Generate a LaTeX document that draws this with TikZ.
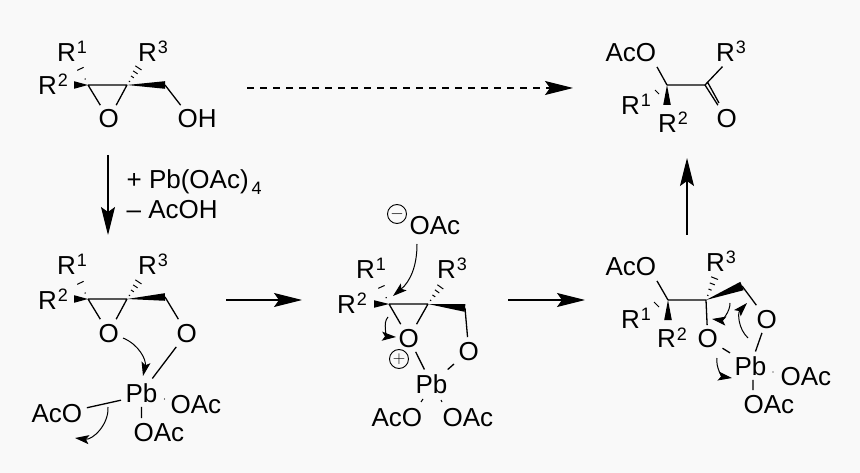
\documentclass[tikz,border=0pt]{standalone}
\usepackage{fontspec}
\setmainfont{Liberation Sans}
\usetikzlibrary{arrows.meta,calc}
\definecolor{paper}{HTML}{F9F9F9}
\newcommand{\Rsup}[1]{\kern-1.5pt R\raisebox{8pt}{\fontsize{18}{18}\selectfont\kern1pt #1}}
\newcommand{\wedgebond}[3][3.8pt]{\fill ($(#3)!#1!90:(#2)$) -- ($(#3)!#1!-90:(#2)$) -- (#2) -- cycle;}
\newcommand{\hashbond}[3]{\foreach \t/\w in {#3}{
		\coordinate (m) at ($(#1)!\t!(#2)$);
		\draw[hash line] ($(m)!\w pt!90:(#2)$) -- ($(m)!\w pt!-90:(#2)$);}}
\begin{document}
\begin{tikzpicture}[x=1pt,y=-1pt,line width=1.3pt,
				atom/.style = {anchor=base west,inner sep=4pt,xshift=-4pt,font=\fontsize{26}{26}\selectfont},
				hash line/.style = {line width=1pt},
				step arrow/.style = {-{Stealth[length=28pt,width=14pt,inset=5pt]},line width=1.1pt},
				push arrow/.style = {-{Stealth[length=14pt,width=9pt,inset=3pt]},line width=1pt},
				charge/.style = {circle,draw,line width=.9pt,inner sep=0pt,minimum size=19pt,font=\fontsize{17}{17}\selectfont}]
				\fill[paper] (0,0) rectangle (860,473);
				\useasboundingbox (0,0) rectangle (860,473);

				\coordinate (a1) at (88,85);
				\coordinate (a2) at (127,85);
				\coordinate (a3) at (165,85);
				\coordinate (aw) at (74,85);
				\coordinate (ah1) at (80,68);
				\coordinate (ah3) at (139,67);
				\node[atom] (aR1) at (58,62) {\Rsup{1}};
				\node[atom] (aR2) at (39,95) {\Rsup{2}};
				\node[atom] (aR3) at (139,62) {\Rsup{3}};
				\node[atom] (aO) at (98,128) {O};
				\node[atom] (aOH) at (177,128) {OH};
				\draw (a1) -- (a2) (a1) -- (aO) (a2) -- (aO) (a3) -- (aOH.140);
				\wedgebond{a1}{aw}
				\wedgebond{a2}{a3}
				\hashbond{a1}{ah1}{.35/.6,.95/3.5}
				\hashbond{a2}{ah3}{.2/.7,.45/1.7,.7/2.7,.95/3.7}

				\coordinate (b1) at (88,299);
				\coordinate (b2) at (127,299);
				\coordinate (b3) at (165,297);
				\coordinate (bw) at (74,299);
				\coordinate (bh1) at (80,282);
				\coordinate (bh3) at (139,281);
				\node[atom] (bR1) at (58,275) {\Rsup{1}};
				\node[atom] (bR2) at (39,309) {\Rsup{2}};
				\node[atom] (bR3) at (139,275) {\Rsup{3}};
				\node[atom] (bO1) at (98,342) {O};
				\node[atom] (bO2) at (176,342) {O};
				\node[atom] (bPb) at (125,402) {Pb};
				\node[atom] (bAcO) at (31,422) {AcO};
				\node[atom] (bOAc1) at (170,413) {OAc};
				\node[atom] (bOAc2) at (133,441) {OAc};
				\draw (b1) -- (b2) (b1) -- (bO1) (b2) -- (bO1) (b3) -- (bO2) (bO2) -- (bPb)
				(bAcO.10) -- (bPb.200) (bPb.south) -- (bPb.south |- bOAc2.north);
				\wedgebond{b1}{bw}
				\wedgebond{b2}{b3}
				\hashbond{b1}{bh1}{.35/.6,.95/3.5}
				\hashbond{b2}{bh3}{.2/.7,.45/1.7,.7/2.7,.95/3.7}
				\coordinate (bd) at (164.5,399);
				\fill (bd) circle (.7pt);
				\coordinate (bp1) at (123,338);
				\coordinate (bp2) at (143,376);
				\coordinate (bp3) at (108,407);
				\coordinate (bp4) at (75,438);
				\draw[push arrow] (bp1) to[bend left=40] (bp2);
				\draw[push arrow] (bp3) to[bend left=50] (bp4);

				\coordinate (c1) at (389,304);
				\coordinate (c2) at (428,304);
				\coordinate (c3) at (465,308);
				\coordinate (cw) at (374,304);
				\coordinate (ch1) at (381,286);
				\coordinate (ch3) at (441,286);
				\node[atom] (cR1) at (357,279) {\Rsup{1}};
				\node[atom] (cR2) at (338,313) {\Rsup{2}};
				\node[atom] (cR3) at (438,279) {\Rsup{3}};
				\node[atom] (cO1) at (398,347) {O};
				\node[atom] (cO2) at (458,360) {O};
				\node[atom] (cPb) at (415,393) {Pb};
				\node[atom] (cAcO) at (371,426) {AcO};
				\node[atom] (cOAc1) at (442,426) {OAc};
				\node[atom] (cOAc2) at (409,235) {OAc};
				\node[charge] (cminus) at (397,214) {$-$};
				\node[charge] (cplus) at (399,359) {$+$};
				\draw (c1) -- (c2) (c1) -- (cO1) (c2) -- (cO1) (c3) -- (cO2) (cO1) -- (cPb) (cO2) -- (cPb);
				\wedgebond{c1}{cw}
				\wedgebond{c2}{c3}
				\hashbond{c1}{ch1}{.35/.6,.95/3.5}
				\hashbond{c2}{ch3}{.2/.7,.45/1.7,.7/2.7,.95/3.7}
				\coordinate (cb1) at (423,399);
				\coordinate (cb2) at (421,402);
				\coordinate (cb3) at (441,400);
				\coordinate (cb4) at (442,402);
				\draw[hash line] (cb1) -- (cb2) (cb3) -- (cb4);
				\coordinate (cp1) at (417,244);
				\coordinate (cp2) at (393,296);
				\coordinate (cp3) at (388,317);
				\coordinate (cp4) at (396,337);
				\draw[push arrow] (cp1) to[bend left=25] (cp2);
				\draw[push arrow] (cp3) to[bend right=65] (cp4);

				\coordinate (d1) at (668,300);
				\coordinate (d2) at (706,300);
				\coordinate (d3) at (742,286);
				\coordinate (dw) at (668,320);
				\coordinate (dh1) at (654,302);
				\coordinate (dh2) at (659,307);
				\coordinate (dh3) at (715,277);
				\node[atom] (dAcO) at (605,276) {AcO};
				\node[atom] (dR1) at (622,328) {\Rsup{1}};
				\node[atom] (dR2) at (658,348) {\Rsup{2}};
				\node[atom] (dR3) at (707,272) {\Rsup{3}};
				\node[atom] (dO1) at (697,348) {O};
				\node[atom] (dO2) at (756,328) {O};
				\node[atom] (dPb) at (734,375) {Pb};
				\node[atom] (dOAc1) at (780,385) {OAc};
				\node[atom] (dOAc2) at (743,413) {OAc};
				\draw (dAcO.-28) -- (d1) (d1) -- (d2) (d2) -- (dO1) (d3) -- (dO2) (dO1) -- (dPb) (dO2) -- (dPb)
				(dPb.-80) -- (dPb.-80 |- dOAc2.north);
				\wedgebond{d1}{dw}
				\wedgebond[4.5pt]{d2}{d3}
				\draw[hash line] (dh1) -- (dh2);
				\hashbond{d2}{dh3}{.2/.7,.45/1.7,.7/2.7,.95/3.7}
				\coordinate (dd) at (773,372);
				\fill (dd) circle (.7pt);
				\coordinate (dp1) at (730,303);
				\coordinate (dp2) at (712,319);
				\coordinate (dp3) at (748,338);
				\coordinate (dp4) at (747,303);
				\coordinate (dp5) at (717,358);
				\coordinate (dp6) at (732,378);
				\draw[push arrow] (dp1) to[bend left=50] (dp2);
				\draw[push arrow] (dp3) to[bend left=45] (dp4);
				\draw[push arrow] (dp5) to[bend right=45] (dp6);

				\coordinate (e1) at (667,85);
				\coordinate (e2) at (705,85);
				\coordinate (ew) at (667,105);
				\coordinate (eh1) at (655,90);
				\coordinate (eh2) at (659,94);
				\coordinate (e3) at (708,83);
				\coordinate (e4) at (719,103);
				\node[atom] (eAcO) at (605,62) {AcO};
				\node[atom] (eR1) at (622,115) {\Rsup{1}};
				\node[atom] (eR2) at (659,133) {\Rsup{2}};
				\node[atom] (eR3) at (717,62) {\Rsup{3}};
				\node[atom] (eO) at (716,128) {O};
				\draw (eAcO.-28) -- (e1) (e1) -- (e2) (e2) -- (eR3.238) (e2) -- (eO) (e3) -- (e4);
				\wedgebond{e1}{ew}
				\draw[hash line] (eh1) -- (eh2);

				\coordinate (s1) at (247,88);
				\coordinate (s2) at (573,88);
				\coordinate (s3) at (108,155);
				\coordinate (s4) at (108,235);
				\coordinate (s5) at (226,300);
				\coordinate (s6) at (302,300);
				\coordinate (s7) at (508,300);
				\coordinate (s8) at (585,300);
				\coordinate (s9) at (687,235);
				\coordinate (s10) at (687,158);
				\draw[step arrow,dash pattern=on 7pt off 6pt] (s1) -- (s2);
				\draw[step arrow] (s3) -- (s4);
				\draw[step arrow] (s5) -- (s6);
				\draw[step arrow] (s7) -- (s8);
				\draw[step arrow] (s9) -- (s10);
				\node[atom] (add) at (126,189) {+ Pb(OAc)\raisebox{-6pt}{\fontsize{18}{18}\selectfont\kern3pt 4}};
				\node[atom] (lose) at (126,219) {– AcOH};
				\end{tikzpicture}
\end{document}
